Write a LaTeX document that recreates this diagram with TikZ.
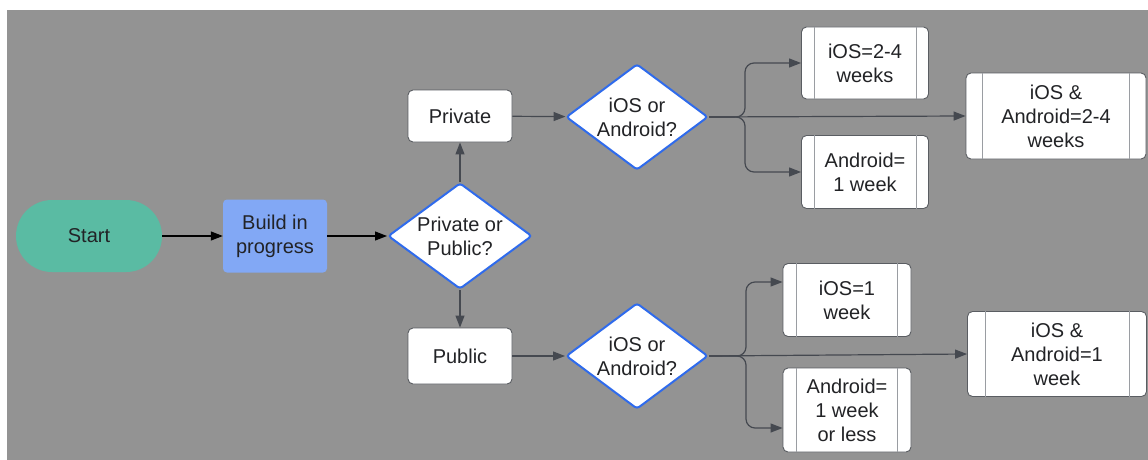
\documentclass[tikz,border=0pt]{standalone}
\usepackage{fontspec}
\setmainfont{Liberation Sans}
\usetikzlibrary{shapes.geometric,arrows.meta}
\definecolor{bg}{HTML}{939393}
\definecolor{startc}{HTML}{5ABBA3}
\definecolor{buildc}{HTML}{82A8F5}
\definecolor{diab}{HTML}{2F6BEC}
\definecolor{boxb}{HTML}{5A5D62}
\definecolor{linec}{HTML}{454950}
\definecolor{txt}{HTML}{222326}
\definecolor{innerl}{HTML}{9A9DA2}
\begin{document}
\begin{tikzpicture}[x=1pt,y=-1pt,
  font=\fontsize{20}{24}\selectfont,
  every node/.style={text=txt, align=center, inner sep=0pt},
  startbox/.style={rectangle, rounded corners=36pt, fill=startc, minimum width=146pt, minimum height=72pt},
  buildbox/.style={rectangle, rounded corners=4pt, fill=buildc, minimum width=104pt, minimum height=73pt},
  plainbox/.style={rectangle, rounded corners=5pt, fill=white, draw=boxb, line width=0.9pt, minimum width=104pt},
  procbox/.style={rectangle, rounded corners=5pt, fill=white, draw=boxb, line width=0.9pt},
  decision/.style={diamond, aspect=1.34, fill=white, draw=diab, line width=2pt, rounded corners=3pt, minimum width=142pt, minimum height=106pt},
  arr/.style={draw=linec, line width=1.2pt, -{Triangle[length=12pt,width=9pt]}},
  innerline/.style={draw=innerl, line width=0.9pt}
]
\useasboundingbox (0,0) rectangle (1148,460);
\fill[bg] (7,10) rectangle (1148,460);

\node[startbox] (start) at (89,236) {Start};
\node[buildbox] (build) at (275,236) {Build in\\progress};
\node[decision, minimum width=144pt] (d0) at (460,236) {Private or\\Public?};
\node[plainbox, minimum height=52pt] (priv) at (460,116) {Private};
\node[plainbox, minimum height=56pt] (pub) at (460,356) {Public};
\node[decision] (d1) at (637,117) {iOS or\\Android?};
\node[decision] (d2) at (637,356) {iOS or\\Android?};

\node[procbox, minimum width=127pt, minimum height=72pt] (r1) at (865,63) {iOS=2-4\\weeks};
\node[procbox, minimum width=127pt, minimum height=73pt] (r2) at (865,172) {Android=\\1 week};
\node[procbox, minimum width=180pt, minimum height=86pt] (r3) at (1056,116) {iOS \&\\Android=2-4\\weeks};
\node[procbox, minimum width=128pt, minimum height=73pt] (r4) at (847,300) {iOS=1\\week};
\node[procbox, minimum width=128pt, minimum height=84pt] (r5) at (847,410) {Android=\\1 week\\or less};
\node[procbox, minimum width=179pt, minimum height=85pt] (r6) at (1057,354) {iOS \&\\Android=1\\week};

\foreach \n/\d in {r1/13,r2/13,r3/17,r4/14,r5/14,r6/18}{
  \draw[innerline] ([xshift=\d pt]\n.north west) -- ([xshift=\d pt]\n.south west);
  \draw[innerline] ([xshift=-\d pt]\n.north east) -- ([xshift=-\d pt]\n.south east);
}

\coordinate (bt) at (745,117);
\coordinate (bb) at (746,356);

\draw[arr, draw=black] (start) -- (build);
\draw[arr, draw=black] (build) -- (d0);
\draw[arr] (d0) -- (priv);
\draw[arr] (d0) -- (pub);
\draw[arr] (priv) -- (d1);
\draw[arr] (pub) -- (d2);

\draw[arr, rounded corners=9pt] (d1.east) -- (bt) |- (r1.west);
\draw[arr, rounded corners=9pt] (d1.east) -- (bt) |- (r2.west);
\draw[arr] (d1.east) -- (r3.west);

\draw[arr, rounded corners=9pt] (d2.east) -- (bb) |- ([yshift=18pt]r4.west);
\draw[arr, rounded corners=9pt] (d2.east) -- (bb) |- ([yshift=-18pt]r5.west);
\draw[arr] (d2.east) -- (r6.west);
\end{tikzpicture}
\end{document}
